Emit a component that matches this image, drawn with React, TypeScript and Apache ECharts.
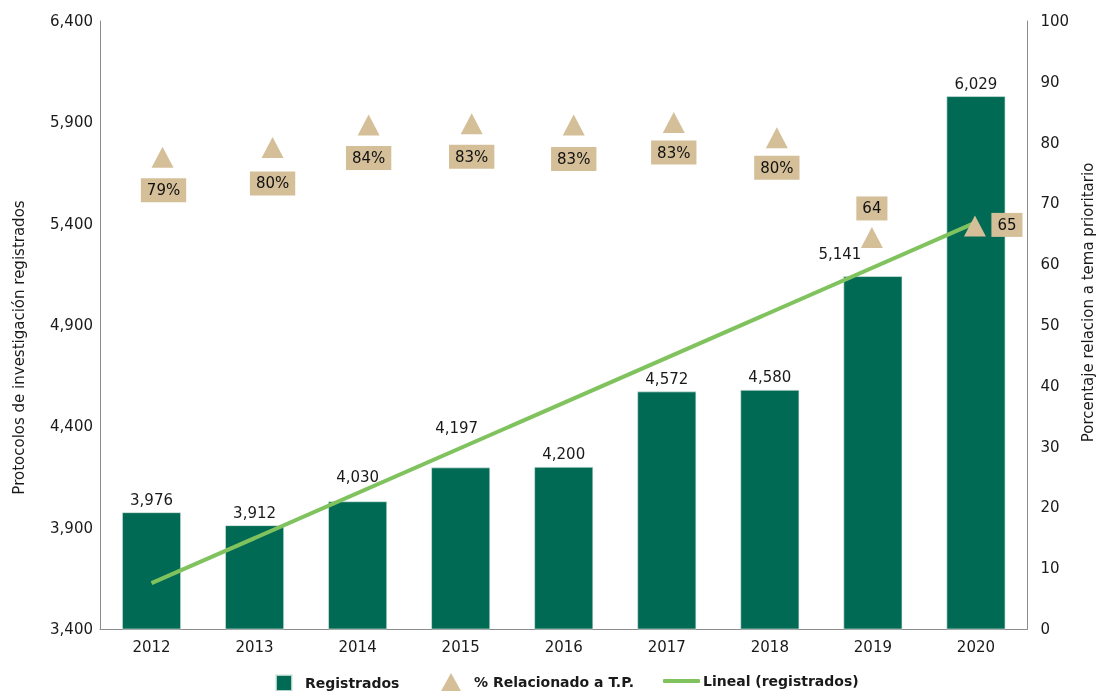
import React, { useEffect, useRef } from "react";
import * as echarts from "echarts";

const years = ["2012", "2013", "2014", "2015", "2016", "2017", "2018", "2019", "2020"];
const registrados = [3976, 3912, 4030, 4197, 4200, 4572, 4580, 5141, 6029];
const registradosLabels = ["3,976", "3,912", "4,030", "4,197", "4,200", "4,572", "4,580", "5,141", "6,029"];
const porcentaje = [77.6, 79.2, 82.9, 83.1, 82.9, 83.3, 80.8, 64.4, 66.3];
const porcentajeLabels = ["79%", "80%", "84%", "83%", "83%", "83%", "80%", "64", "65"];
const tendencia = [3626, null, null, null, null, null, null, null, 5406];
const leftTicks = { min: 3400, max: 6400, interval: 500 };
const rightTicks = { min: 0, max: 100, interval: 10 };

const FONT = "DejaVu Sans";
const TXT = "#1a1a1a";
const BAR = "#006A54";
const TAN = "#D4BF98";
const GREEN = "#80C35E";
const AXIS = "#8c8c8c";

const barLabelOffsets: Record<number, number[]> = { 2: [0, -12], 3: [-4, -27], 7: [-33, -10] };
const triXOffsets = [11, 18, 11, 11, 10, 7, 7, -1, -1];
const triLabelOffsets = [[1, 33], [0, 36], [0, 33], [0, 33], [0, 34], [0, 30], [0, 30], [0, -29], [32, -1]];

export default function App() {
  const ref = useRef<HTMLDivElement>(null);
  useEffect(() => {
    if (!ref.current) return;
    const chart = echarts.init(ref.current, null, { renderer: "svg" });
    const fmt = (v: number) => v.toLocaleString("en-US");
    const legendText = { fontFamily: FONT, fontSize: 14, fontWeight: "bold", color: TXT };
    chart.setOption({
      animation: false,
      textStyle: { fontFamily: FONT },
      grid: { left: 100, right: 69, top: 21, bottom: 62 },
      legend: [
        {
          data: ["Registrados"], left: 275, top: 674, padding: 0, itemWidth: 16, itemHeight: 16, icon: "rect",
          textStyle: { ...legendText, padding: [0, 0, 0, 8] },
        },
        {
          data: ["% Relacionado a T.P."], left: 441, top: 673, padding: 0, itemWidth: 20, itemHeight: 18, icon: "triangle",
          textStyle: { ...legendText, padding: [0, 0, 0, 8] },
        },
        {
          data: ["Lineal (registrados)"], left: 663, top: 674, padding: 0, itemWidth: 37, itemHeight: 4, icon: "roundRect",
          textStyle: { ...legendText, padding: [0, 0, 0, -2] },
        },
      ],
      xAxis: {
        type: "category",
        data: years,
        axisLine: { lineStyle: { color: AXIS, width: 1 } },
        axisTick: { show: false },
        axisLabel: { color: TXT, fontSize: 15, margin: 10, fontFamily: FONT },
      },
      yAxis: [
        {
          type: "value",
          ...leftTicks,
          name: "Protocolos de investigación registrados",
          nameLocation: "middle",
          nameGap: 74,
          nameTextStyle: { color: TXT, fontSize: 15, fontFamily: FONT, padding: [0, 0, 0, -45] },
          axisLine: { show: true, lineStyle: { color: AXIS, width: 1 } },
          axisTick: { show: false },
          splitLine: { show: false },
          axisLabel: { color: TXT, fontSize: 15, margin: 7, fontFamily: FONT, formatter: fmt },
        },
        {
          type: "value",
          ...rightTicks,
          name: "Porcentaje relacion a tema prioritario",
          nameLocation: "middle",
          nameGap: 52,
          nameTextStyle: { color: TXT, fontSize: 15, fontFamily: FONT, padding: [0, 0, 0, 45] },
          axisLine: { show: true, lineStyle: { color: AXIS, width: 1 } },
          axisTick: { show: false },
          splitLine: { show: false },
          axisLabel: { color: TXT, fontSize: 15, margin: 13, fontFamily: FONT },
        },
      ],
      series: [
        {
          name: "Registrados",
          type: "bar",
          barWidth: 59,
          itemStyle: { color: BAR, borderColor: "rgba(220,235,228,0.8)", borderWidth: 0.8 },
          data: registrados.map((v, i) => ({
            value: v,
            label: {
              show: true,
              position: "top",
              distance: 5,
              offset: barLabelOffsets[i] || [0, 0],
              formatter: registradosLabels[i],
              color: TXT,
              fontSize: 15,
              fontFamily: FONT,
            },
          })),
        },
        {
          name: "Lineal (registrados)",
          type: "line",
          data: tendencia,
          connectNulls: true,
          symbol: "none",
          lineStyle: { color: GREEN, width: 4 },
          itemStyle: { color: GREEN },
          z: 3,
        },
        {
          name: "% Relacionado a T.P.",
          type: "line",
          yAxisIndex: 1,
          symbol: "triangle",
          symbolSize: [22, 21],
          lineStyle: { width: 0, opacity: 0 },
          itemStyle: { color: TAN },
          z: 4,
          data: porcentaje.map((v, i) => ({
            value: v,
            symbolOffset: [triXOffsets[i], 0],
            label: {
              show: true,
              position: "inside",
              offset: triLabelOffsets[i],
              formatter: porcentajeLabels[i],
              backgroundColor: TAN,
              padding: [5, 6, 4, 6],
              color: "#111",
              fontSize: 15,
              fontFamily: FONT,
            },
          })),
        },
      ],
    });
    return () => chart.dispose();
  }, []);
  return <div ref={ref} style={{ position: "fixed", left: 0, top: 0, width: 1103, height: 691 }} />;
}
